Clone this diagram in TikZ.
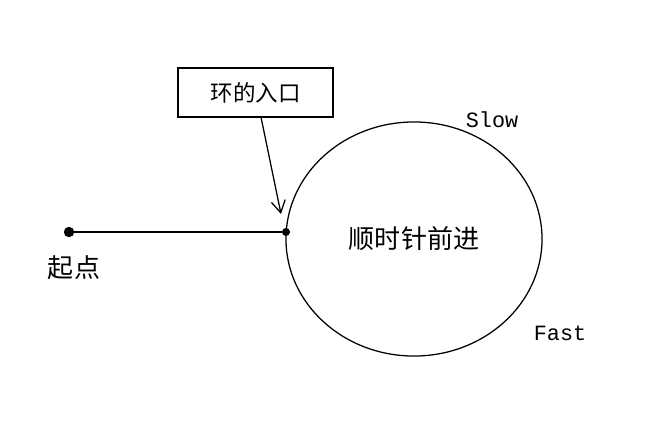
\documentclass[tikz,border=0pt]{standalone}
\usepackage{fontspec}
\setmainfont{Liberation Mono}
\newfontfamily\cjk{Noto Sans CJK SC}
\usetikzlibrary{shapes.geometric,arrows.meta}
\begin{document}
\begin{tikzpicture}[x=0.025cm, y=-0.025cm,
    every node/.style={inner sep=0pt},
    ring/.style={draw, ellipse, line width=0.9pt, minimum width=6.4cm,
      minimum height=5.85cm, font=\cjk\fontsize{18.5}{18.5}\selectfont},
    entrybox/.style={draw, line width=0.9pt, minimum width=3.875cm,
      minimum height=1.225cm, font=\cjk\fontsize{16}{16}\selectfont},
    dot/.style={circle, fill, minimum size=0.26cm},
    smalldot/.style={circle, fill, minimum size=0.2cm},
    lbl/.style={font=\fontsize{15.5}{15.5}\selectfont},
    cjklbl/.style={font=\cjk\fontsize{18.5}{18.5}\selectfont},
  ]
  \useasboundingbox (0,0) rectangle (648,439);

  \node[ring] (loop) at (414,239) {顺时针前进};
  \node[entrybox] (box) at (255.5,92.5) {环的入口};

  \node[dot] (start) at (69,232) {};
  \node[smalldot] (entry) at (286,232) {};
  \coordinate (tip) at (281,214);

  \node[cjklbl] (startlbl) at (74,268) {起点};
  \node[lbl] (slow) at (492,120) {Slow};
  \node[lbl] (fast) at (560,333) {Fast};

  \draw[line width=0.9pt] (start) -- (entry);
  \draw[line width=0.9pt, -{Straight Barb[length=0.3cm, width=0.35cm]}]
    ([xshift=0.14cm]box.south) -- (tip);
\end{tikzpicture}
\end{document}
